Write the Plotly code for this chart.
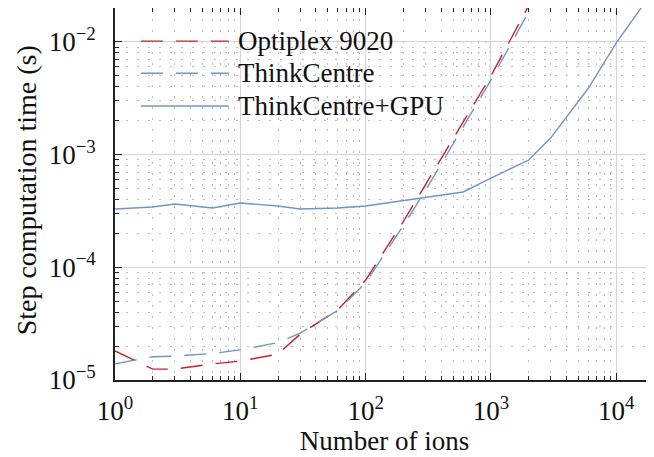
import plotly.graph_objects as go
import numpy as np

# ---- data ----
ions = [1, 2, 3, 6, 10, 20, 30, 60, 100, 200, 300, 600, 1000, 2000]
optiplex = [1.81e-5, 1.25e-5, 1.25e-5, 1.39e-5, 1.47e-5, 1.70e-5, 2.55e-5, 4.2e-5, 7.7e-5,
            2.55e-4, 5.4e-4, 1.96e-3, 5.0e-3, 2.1e-2]
thinkcentre = [1.39e-5, 1.61e-5, 1.63e-5, 1.72e-5, 1.85e-5, 2.15e-5, 2.6e-5, 4.15e-5, 7.3e-5,
               2.35e-4, 4.8e-4, 1.75e-3, 4.6e-3, 1.85e-2]
ions_gpu = [1, 2, 3, 6, 10, 20, 30, 60, 100, 200, 300, 600, 1000, 2000, 3000, 6000, 10000, 20000]
thinkcentre_gpu = [3.29e-4, 3.43e-4, 3.65e-4, 3.36e-4, 3.72e-4, 3.5e-4, 3.29e-4, 3.36e-4, 3.5e-4,
                   3.9e-4, 4.2e-4, 4.66e-4, 6.2e-4, 8.95e-4, 1.41e-3, 3.9e-3, 9.8e-3, 2.9e-2]

series_names = ["Optiplex 9020", "ThinkCentre", "ThinkCentre+GPU"]
x_tickvals = [1, 10, 100, 1000, 10000]
x_ticktext = ["10<sup>0</sup>", "10<sup>1</sup>", "10<sup>2</sup>", "10<sup>3</sup>", "10<sup>4</sup>"]
y_tickvals = [1e-5, 1e-4, 1e-3, 1e-2]
y_ticktext = ["10<sup>−5</sup>", "10<sup>−4</sup>", "10<sup>−3</sup>", "10<sup>−2</sup>"]
x_title = "Number of ions"
y_title = "Step computation time (s)"

RED = "#c8202f"
BLUE = "#7094c8"
FONT = "Liberation Serif"
DASH = "22px,13px"
TXT = "#111"

fig = go.Figure()
fig.add_trace(go.Scatter(x=ions, y=optiplex, mode="lines", name=series_names[0],
                         line=dict(color=RED, width=1.4, dash=DASH), showlegend=False))
fig.add_trace(go.Scatter(x=ions, y=thinkcentre, mode="lines", name=series_names[1],
                         line=dict(color=BLUE, width=1.4, dash=DASH), showlegend=False))
fig.add_trace(go.Scatter(x=ions_gpu, y=thinkcentre_gpu, mode="lines", name=series_names[2],
                         line=dict(color=BLUE, width=1.4), showlegend=False))

# custom legend (long line samples like the reference)
leg_styles = [(RED, DASH), (BLUE, DASH), (BLUE, "solid")]
leg_y = [0.911, 0.8245, 0.7366]
for (c, d), yy, nm in zip(leg_styles, leg_y, series_names):
    fig.add_shape(type="line", xref="paper", yref="paper", x0=0.048, x1=0.211, y0=yy, y1=yy,
                  line=dict(color=c, width=1.4, dash=d))
    fig.add_annotation(xref="paper", yref="paper", x=0.2245, y=yy, text=nm, showarrow=False,
                       xanchor="left", yanchor="middle", font=dict(family=FONT, size=27, color=TXT))

# y-axis title placed as rotated text left of the tick labels
fig.add_annotation(xref="paper", yref="paper", x=-0.165, y=0.51, text=y_title, textangle=-90,
                   showarrow=False, xanchor="center", yanchor="middle",
                   font=dict(family=FONT, size=28, color=TXT))

grid_minor = dict(ticks="inside", ticklen=4, tickcolor="#222", showgrid=True,
                  gridcolor="#bdbdbd", griddash="2px,9px", gridwidth=1, dtick="D1")

fig.update_xaxes(type="log", range=[0, np.log10(2e4)], tickvals=x_tickvals, ticktext=x_ticktext,
                 ticks="inside", ticklen=7, tickcolor="#222", showline=True, linecolor="#222",
                 linewidth=1.6, mirror="allticks", showgrid=True, gridcolor="#d4d4d4", gridwidth=1,
                 minor=grid_minor, tickfont=dict(family=FONT, size=27, color=TXT), automargin=False,
                 ticklabelstandoff=6,
                 title=dict(text=x_title, font=dict(family=FONT, size=27, color=TXT), standoff=4),
                 zeroline=False)
fig.update_yaxes(type="log", range=[-5, np.log10(2e-2)], tickvals=y_tickvals, ticktext=y_ticktext,
                 ticks="inside", ticklen=7, tickcolor="#222", showline=True, linecolor="#222",
                 linewidth=1.6, mirror="allticks", showgrid=True, gridcolor="#d4d4d4", gridwidth=1,
                 minor=grid_minor, tickfont=dict(family=FONT, size=27, color=TXT), automargin=False,
                 ticklabelstandoff=12,
                 zeroline=False)

# the page body adds an 8px offset; margins compensate so the plot area lands where the reference has it
fig.update_layout(width=654, height=457, margin=dict(l=107, r=8, t=0, b=85),
                  plot_bgcolor="white", paper_bgcolor="white", showlegend=False)

fig.write_html("out.html")
